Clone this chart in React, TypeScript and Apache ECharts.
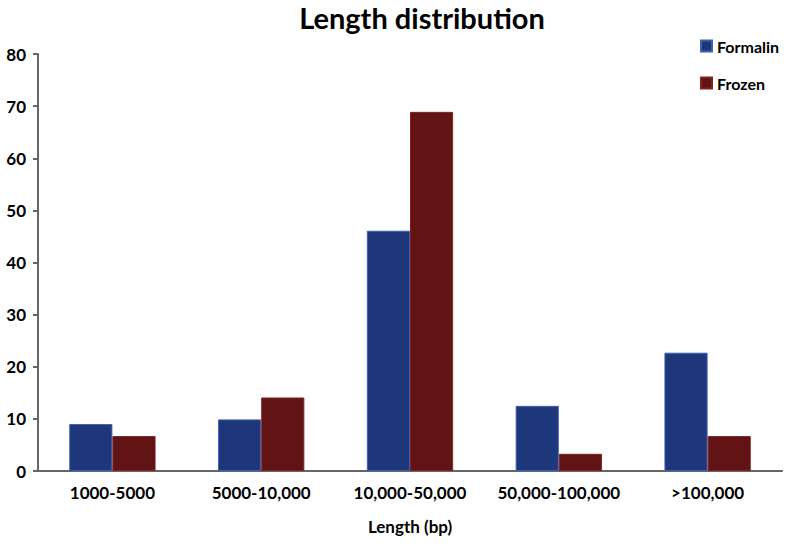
import React, { useEffect, useRef } from "react";
import * as echarts from "echarts";

const categories = ["1000-5000", "5000-10,000", "10,000-50,000", "50,000-100,000", ">100,000"];
const formalin = [9.0, 9.9, 46.1, 12.5, 22.7];
const frozen = [6.7, 14.1, 68.9, 3.3, 6.7];
const yTicks = { min: 0, max: 80, interval: 10 };

export default function App() {
  const ref = useRef<HTMLDivElement>(null);
  useEffect(() => {
    if (!ref.current) return;
    const chart = echarts.init(ref.current, undefined, { renderer: "svg" });
    const font = "Lato, 'Open Sans', sans-serif";
    chart.setOption({
      animation: false,
      backgroundColor: "#ffffff",
      title: {
        text: "Length distribution",
        left: 417,
        textAlign: "center",
        top: -2,
        textStyle: { fontFamily: font, fontWeight: "bold", fontSize: 29, color: "#000" },
      },
      legend: {
        orient: "vertical",
        left: 695,
        top: 33,
        itemWidth: 11,
        itemHeight: 11,
        itemGap: 21,
        icon: "rect",
        textStyle: { fontFamily: font, fontWeight: "bold", fontSize: 16, color: "#000" },
        data: ["Formalin", "Frozen"],
      },
      grid: { left: 38, right: 6, top: 54, bottom: 81 },
      xAxis: {
        type: "category",
        data: categories,
        name: "Length (bp)",
        nameLocation: "middle",
        nameGap: 47,
        nameTextStyle: { fontFamily: font, fontWeight: "bold", fontSize: 17, color: "#000" },
        axisLine: { lineStyle: { color: "#666", width: 2 } },
        axisTick: { show: false },
        axisLabel: {
          interval: 0,
          hideOverlap: false,
          fontFamily: font,
          fontWeight: "bold",
          fontSize: 17,
          color: "#000",
          margin: 13,
        },
      },
      yAxis: {
        type: "value",
        min: yTicks.min,
        max: yTicks.max,
        interval: yTicks.interval,
        splitLine: { show: false },
        axisLine: { show: true, lineStyle: { color: "#666", width: 2 } },
        axisTick: { show: true, length: 5, lineStyle: { color: "#666", width: 2 } },
        axisLabel: { fontFamily: font, fontWeight: "bold", fontSize: 17, color: "#000", margin: 12 },
      },
      series: [
        {
          name: "Formalin",
          type: "bar",
          data: formalin,
          barWidth: "29%",
          barGap: "0%",
          itemStyle: { color: "#1e367a", borderColor: "#3f5fb3", borderWidth: 1 },
        },
        {
          name: "Frozen",
          type: "bar",
          data: frozen,
          barWidth: "29%",
          itemStyle: { color: "#621313", borderColor: "#7e2424", borderWidth: 1 },
        },
      ],
    });
    return () => chart.dispose();
  }, []);
  return <div ref={ref} style={{ width: 788, height: 552, position: "absolute", left: 0, top: 0 }} />;
}
